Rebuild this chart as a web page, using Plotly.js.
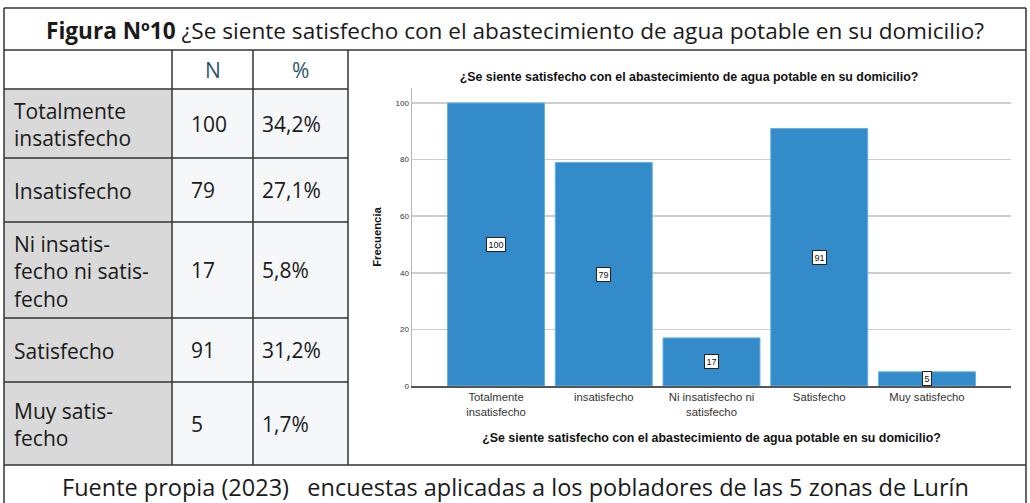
<!DOCTYPE html>
<html>
<head>
<meta charset="utf-8">
<script src="https://cdn.plot.ly/plotly-3.0.1.min.js"></script>
<style>html,body{margin:0;padding:0;background:#fff;}#chart{width:1030px;height:503px;}</style>
</head>
<body>
<div id="chart"></div>
<script>
// ---- data ----
const chartTicks = ['Totalmente<br>insatisfecho', 'insatisfecho', 'Ni insatisfecho ni<br>satisfecho', 'Satisfecho', 'Muy satisfecho'];
const tableLabels = ['Totalmente<br>insatisfecho', 'Insatisfecho', 'Ni insatis-<br>fecho ni satis-<br>fecho', 'Satisfecho', 'Muy satis-<br>fecho'];
const counts = [100, 79, 17, 91, 5];
const percents = ['34,2%', '27,1%', '5,8%', '31,2%', '1,7%'];
const headers = ['', 'N', '%'];
const yTicks = [0, 20, 40, 60, 80, 100];
const figureTitle = '<b>Figura Nº10</b> ¿Se siente satisfecho con el abastecimiento de agua potable en su domicilio?';
const chartTitle = '¿Se siente satisfecho con el abastecimiento de agua potable en su domicilio?';
const xTitle = '¿Se siente satisfecho con el abastecimiento de agua potable en su domicilio?';
const yTitle = 'Frecuencia';
const footer = 'Fuente propia (2023)\u00a0\u00a0\u00a0encuestas aplicadas a los pobladores de las 5 zonas de Lurín';

// ---- layout geometry (pixels) ----
const W = 1030, H = 503;
const colEdges = [4, 172, 253, 348, 1026];
const rowEdges = [8, 50, 89, 158, 222, 318, 382, 465, 520];
const plotBox = {l: 412, r: 1011, t: 88, b: 386};
const pageFont = 'Open Sans, Noto Sans, sans-serif';
const spssFont = 'Liberation Sans, Arial, sans-serif';
const lineCol = '#333';

const shapes = [];
const annotations = [];
const T = {xref: 'x2', yref: 'y2'};

// cell fills
for (let i = 0; i < counts.length; i++) {
  const y0 = rowEdges[i + 2], y1 = rowEdges[i + 3];
  shapes.push(Object.assign({type: 'rect', x0: colEdges[0], x1: colEdges[1], y0, y1, fillcolor: '#d9d9d9', line: {width: 0}, layer: 'below'}, T));
  shapes.push(Object.assign({type: 'rect', x0: colEdges[1], x1: colEdges[3], y0, y1, fillcolor: '#f6f7f9', line: {width: 0}, layer: 'below'}, T));
}
function hline(y, x0, x1) { shapes.push(Object.assign({type: 'line', x0, x1, y0: y, y1: y, line: {color: lineCol, width: 1.5}}, T)); }
function vline(x, y0, y1) { shapes.push(Object.assign({type: 'line', x0: x, x1: x, y0, y1, line: {color: lineCol, width: 1.5}}, T)); }
hline(rowEdges[0], colEdges[0], colEdges[4]);
hline(rowEdges[1], colEdges[0], colEdges[4]);
hline(rowEdges[7], colEdges[0], colEdges[4]);
for (let i = 2; i < 7; i++) hline(rowEdges[i], colEdges[0], colEdges[3]);
vline(colEdges[0], rowEdges[0], rowEdges[8]);
vline(colEdges[4], rowEdges[0], rowEdges[8]);
for (let j = 1; j < 4; j++) vline(colEdges[j], rowEdges[1], rowEdges[7]);

// figure title & footer
annotations.push(Object.assign({x: (colEdges[0] + colEdges[4]) / 2, y: (rowEdges[0] + rowEdges[1]) / 2 + 1, text: figureTitle, showarrow: false, xanchor: 'center', yanchor: 'middle', font: {family: pageFont, size: 22.6, color: '#1a1a1a'}}, T));
annotations.push(Object.assign({x: (colEdges[0] + colEdges[4]) / 2, y: 487, text: footer, showarrow: false, xanchor: 'center', yanchor: 'middle', font: {family: pageFont, size: 23.5, color: '#1a1a1a'}}, T));
// headers
for (let j = 1; j < 3; j++) {
  annotations.push(Object.assign({x: (colEdges[j] + colEdges[j + 1]) / 2, y: (rowEdges[1] + rowEdges[2]) / 2, text: headers[j], showarrow: false, xanchor: 'center', yanchor: 'middle', font: {family: pageFont, size: 21, color: '#2f5468'}}, T));
}
// rows
for (let i = 0; i < counts.length; i++) {
  const yc = (rowEdges[i + 2] + rowEdges[i + 3]) / 2;
  const f = {family: pageFont, size: 21, color: '#1a1a1a'};
  annotations.push(Object.assign({x: colEdges[0] + 8, y: yc + 1, text: tableLabels[i], showarrow: false, xanchor: 'left', yanchor: 'middle', align: 'left', font: f}, T));
  annotations.push(Object.assign({x: colEdges[1] + 17, y: yc, text: String(counts[i]), showarrow: false, xanchor: 'left', yanchor: 'middle', font: f}, T));
  annotations.push(Object.assign({x: colEdges[2] + 7, y: yc, text: percents[i], showarrow: false, xanchor: 'left', yanchor: 'middle', font: f}, T));
}
// bar value labels (at half the bar height)
for (let i = 0; i < counts.length; i++) {
  annotations.push({xref: 'x', yref: 'y', x: chartTicks[i], y: counts[i] / 2, text: String(counts[i]), showarrow: false,
    bgcolor: '#ffffff', bordercolor: '#222', borderwidth: 1, borderpad: 1.5,
    font: {family: spssFont, size: 9, color: '#111'}});
}

const unitsPerPx = 100 / (386 - 103);
const yTop = (plotBox.b - plotBox.t) * unitsPerPx;

const data = [
  {type: 'bar', x: chartTicks, y: counts, xaxis: 'x', yaxis: 'y',
   marker: {color: '#338bca', line: {color: '#66b0e2', width: 1}}, hoverinfo: 'none'},
  {type: 'scatter', x: [], y: [], xaxis: 'x2', yaxis: 'y2', showlegend: false}
];

const layout = {
  width: W, height: H,
  margin: {l: 0, r: 0, t: 0, b: 0},
  paper_bgcolor: '#ffffff', plot_bgcolor: 'rgba(0,0,0,0)',
  showlegend: false,
  bargap: 0.1,
  title: {text: chartTitle, x: 689 / W, y: 1 - 77 / H, xanchor: 'center', yanchor: 'middle', xref: 'paper', yref: 'paper',
          font: {family: spssFont, size: 12.4, color: '#111', weight: 'bold'}},
  xaxis: {domain: [plotBox.l / W, plotBox.r / W], anchor: 'y', type: 'category', range: [-0.78, 4.78],
          showline: true, linecolor: '#555', linewidth: 1.5, showgrid: false, ticks: '', zeroline: false,
          tickfont: {family: spssFont, size: 11.3, color: '#333'},
          title: {text: xTitle, standoff: 16, font: {family: spssFont, size: 12.4, color: '#111', weight: 'bold'}}},
  yaxis: {domain: [1 - plotBox.b / H, 1 - plotBox.t / H], anchor: 'x', range: [0, yTop],
          tickvals: yTicks, showline: true, linecolor: '#b5b5b5', linewidth: 1.5,
          showgrid: true, gridcolor: '#cdcdcd', gridwidth: 1.5, zeroline: false, ticks: '',
          tickfont: {family: spssFont, size: 8, color: '#333'},
          title: {text: yTitle, standoff: 11, font: {family: spssFont, size: 11.3, color: '#111', weight: 'bold'}}},
  xaxis2: {domain: [0, 1], range: [0, W], anchor: 'y2', visible: false, fixedrange: true},
  yaxis2: {domain: [0, 1], range: [H, 0], anchor: 'x2', visible: false, fixedrange: true},
  shapes: shapes,
  annotations: annotations
};

Plotly.newPlot('chart', data, layout, {staticPlot: true, displayModeBar: false});
</script>
</body>
</html>
